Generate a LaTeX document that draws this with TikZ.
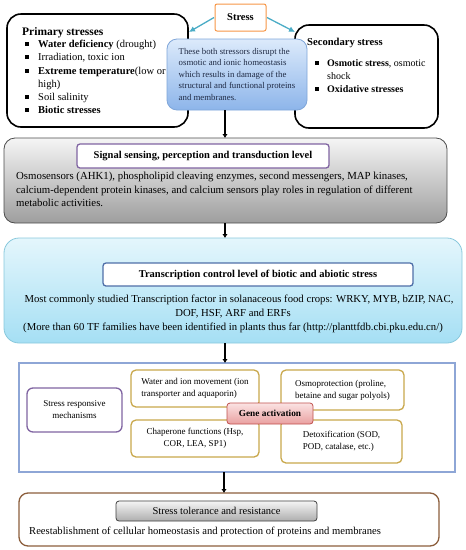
\documentclass[tikz,border=0pt]{standalone}
\usepackage{fontspec}
\setmainfont{Liberation Serif}
\usetikzlibrary{arrows.meta}
\definecolor{tealA}{HTML}{4BACC6}
\definecolor{purpA}{HTML}{8064A2}
\definecolor{tblueA}{HTML}{4F6FA8}
\definecolor{fblueA}{HTML}{8EA6D6}
\definecolor{goldA}{HTML}{C9A84C}
\definecolor{redA}{HTML}{C0504D}
\definecolor{brownA}{HTML}{8C5E3C}
\definecolor{orngA}{HTML}{F79646}
\definecolor{cyanB}{HTML}{88C8DC}
\definecolor{cyanTop}{HTML}{E4F6FC}
\definecolor{cyanBot}{HTML}{A5DFF4}
\definecolor{blueB}{HTML}{7FA6D9}
\definecolor{blueTop}{HTML}{DCEAFB}
\definecolor{blueBot}{HTML}{8DB5EA}
\definecolor{pinkTop}{HTML}{FBE3E3}
\definecolor{pinkBot}{HTML}{E9A0A0}
\definecolor{grayTop}{HTML}{F5F5F5}
\definecolor{grayBot}{HTML}{9E9E9E}
\definecolor{txtBlue}{HTML}{1F2A44}
\begin{document}
\begin{tikzpicture}[x=1pt,y=-1pt,
  base/.style={anchor=north west, inner sep=0pt, outer sep=0pt},
  thickbox/.style={base, draw=black, line width=1.6pt, rounded corners=14pt, fill=white},
  txt/.style={anchor=base west, inner sep=0pt},
  ctxt/.style={anchor=base, inner sep=0pt},
  bul/.style={fill=black, minimum size=4pt, inner sep=0pt},
  fa/.style={font=\fontsize{10.5}{13}\selectfont},
  fg/.style={font=\fontsize{10.8}{13}\selectfont},
  fc/.style={font=\fontsize{10.7}{13}\selectfont},
  fb/.style={font=\fontsize{10}{13}\selectfont},
  small/.style={font=\fontsize{9}{12}\selectfont},
  tealarrow/.style={draw=tealA, line width=1.3pt, -{Latex[length=6pt,width=6pt]}},
  blkarrow/.style={draw=black, line width=2.3pt, -{Latex[length=4pt,width=5.5pt]}},
  goldbox/.style={base, draw=goldA, line width=1.3pt, rounded corners=5pt, fill=white, small},
]
\useasboundingbox (0,0) rectangle (466,550);
\coordinate (ax) at (225,0);
\coordinate (ax2) at (224,0);

% Stress
\node[base, draw=orngA, line width=1pt, rounded corners=2pt, fill=white,
  minimum width=51, minimum height=27, font=\bfseries\fontsize{10.5}{13}\selectfont] (stress) at (215,4) {Stress};

% Primary stresses box
\node[thickbox, minimum width=181, minimum height=113] (prim) at (7,14) {};
\node[txt, font=\bfseries\fontsize{11.5}{13}\selectfont] (ph) at (22,35) {Primary stresses};
\node[bul] (pb1) at (27,44) {};
\node[bul] (pb2) at (27,57) {};
\node[bul] (pb3) at (27,71) {};
\node[bul] (pb5) at (27,97) {};
\node[bul] (pb6) at (27,110) {};
\node[txt, fa] (p1) at (38,47.5) {\textbf{Water deficiency} (drought)};
\node[txt, fa] (p2) at (38,60.5) {Irradiation, toxic ion};
\node[txt, fa] (p3) at (38,74.5) {\textbf{Extreme temperature}(low or};
\node[txt, fa] (p4) at (38,87.5) {high)};
\node[txt, fa] (p5) at (38,100.5) {Soil salinity};
\node[txt, fa] (p6) at (38,113.5) {\textbf{Biotic stresses}};

% Secondary stress box
\node[thickbox, minimum width=143, minimum height=103] (sec) at (295,25) {};
\node[txt, font=\bfseries\fontsize{10.6}{13}\selectfont] (sh) at (307,45) {Secondary stress};
\node[bul] (sb1) at (317,63) {};
\node[bul] (sb2) at (317,89) {};
\node[txt, fb] (s1) at (327,66.5) {\textbf{Osmotic stress}, osmotic};
\node[txt, fb] (s2) at (327,79.5) {shock};
\node[txt, fb] (s3) at (327,92.5) {\textbf{Oxidative stresses}};

% Blue explanatory box
\node[base, draw=blueB, line width=0.8pt, rounded corners=10pt, top color=blueTop, bottom color=blueBot,
  minimum width=140, minimum height=71, align=left, text=txtBlue, font=\fontsize{8.8}{11.5}\selectfont] (expl) at (167,39)
  {These both stressors disrupt the\\osmotic and ionic homeostasis\\which results in damage of the\\structural and functional proteins\\and membranes.};

\draw[tealarrow] (stress.west) ++(-1,0) coordinate (sa) (sa) -- (189,32) coordinate (sae);
\draw[tealarrow] (stress.east) ++(1,0) coordinate (sb) (sb) -- (295,32) coordinate (sbe);

% Gray signal box
\node[base, draw=black!70, line width=0.8pt, rounded corners=11pt, top color=grayTop, bottom color=grayBot,
  minimum width=443, minimum height=85] (sig) at (4,138) {};
\node[base, draw=purpA, line width=1.3pt, rounded corners=3pt, fill=white, minimum width=252, minimum height=24,
  font=\bfseries\fontsize{10.5}{13}\selectfont] (sigt) at (77,144) {Signal sensing, perception and transduction level};
\node[txt, fg] (g1) at (16,179.5) {Osmosensors (AHK1), phospholipid cleaving enzymes, second messengers, MAP kinases,};
\node[txt, fg] (g2) at (16,193.5) {calcium-dependent protein kinases, and calcium sensors play roles in regulation of different};
\node[txt, fg] (g3) at (16,206.5) {metabolic activities.};

% Cyan transcription box
\node[base, draw=cyanB, line width=0.8pt, rounded corners=15pt, top color=cyanTop, bottom color=cyanBot,
  minimum width=458, minimum height=105] (tr) at (4,238) {};
\node[base, draw=tblueA, line width=1.3pt, rounded corners=3pt, fill=white, minimum width=310, minimum height=23,
  font=\bfseries\fontsize{10.5}{13}\selectfont] (trt) at (103,263) {Transcription control level of biotic and abiotic stress};
\node[ctxt, fc] (t1) at (239,302.5) {Most commonly studied Transcription factor in solanaceous food crops: WRKY, MYB, bZIP, NAC,};
\node[ctxt, fc] (t2) at (233,316.5) {DOF, HSF, ARF and ERFs};
\node[ctxt, fc] (t3) at (233,330.5) {(More than 60 TF families have been identified in plants thus far (http://planttfdb.cbi.pku.edu.cn/)};

% Frame with mechanisms
\node[base, draw=fblueA, line width=1.3pt, fill=white, minimum width=436, minimum height=109] (frame) at (19,363) {};
\node[base, draw=purpA, line width=1.3pt, rounded corners=6pt, fill=white, minimum width=95, minimum height=44,
  align=center, small] (srm) at (27,388) {Stress responsive\\mechanisms};
\node[goldbox, minimum width=128, minimum height=37, align=left] (water) at (131,370) {Water and ion movement (ion\\transporter and aquaporin)};
\node[goldbox, minimum width=123, minimum height=40, align=left] (osmo) at (281,370) {Osmoprotection (proline,\\betaine and sugar polyols)};
\node[goldbox, minimum width=128, minimum height=37, align=center] (chap) at (131,420) {Chaperone functions (Hsp,\\COR, LEA, SP1)};
\node[goldbox, minimum width=121, minimum height=43, align=left] (detox) at (281,420) {Detoxification (SOD,\\POD, catalase, etc.)};
\node[base, draw=redA, line width=0.8pt, rounded corners=3pt, top color=pinkTop, bottom color=pinkBot,
  minimum width=86, minimum height=21, font=\bfseries\fontsize{9.3}{12}\selectfont] (gene) at (227,403) {Gene activation};

% Final box
\node[base, draw=brownA, line width=1.3pt, rounded corners=9pt, fill=white, minimum width=420, minimum height=53] (fin) at (19,493) {};
\node[base, draw=black!75, line width=0.8pt, rounded corners=3pt, top color=grayTop, bottom color=black!32,
  minimum width=201, minimum height=20, font=\fontsize{10.5}{12}\selectfont] (fint) at (116,501) {Stress tolerance and resistance};
\node[txt, font=\fontsize{10.6}{13}\selectfont] (f1) at (29,534.5) {Reestablishment of cellular homeostasis and protection of proteins and membranes};

% Black arrows
\draw[blkarrow] (expl.south -| ax) -- (sig.north -| ax);
\draw[blkarrow] (sig.south -| ax) -- (tr.north -| ax);
\draw[blkarrow] (tr.south -| ax) -- (frame.north -| ax);
\draw[blkarrow] (frame.south -| ax2) -- (fin.north -| ax2);
\end{tikzpicture}
\end{document}
